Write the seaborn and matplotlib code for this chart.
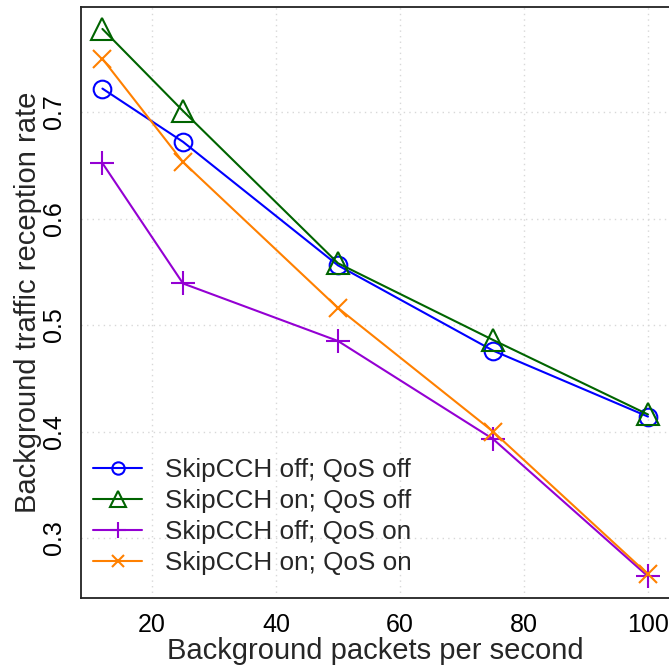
import matplotlib
matplotlib.use("Agg")
import matplotlib.pyplot as plt
import seaborn as sns
import pandas as pd

# ---- data ----
packets = [12, 25, 50, 75, 100]
skip_off_qos_off = [0.722, 0.672, 0.556, 0.476, 0.414]
skip_on_qos_off = [0.778, 0.701, 0.558, 0.486, 0.416]
skip_off_qos_on = [0.652, 0.539, 0.485, 0.393, 0.264]
skip_on_qos_on = [0.750, 0.653, 0.516, 0.400, 0.266]
series_labels = ["SkipCCH off; QoS off", "SkipCCH on; QoS off",
                 "SkipCCH off; QoS on", "SkipCCH on; QoS on"]
x_ticks = [20, 40, 60, 80, 100]
y_ticks = [0.3, 0.4, 0.5, 0.6, 0.7]
x_label = "Background packets per second"
y_label = "Background traffic reception rate"

# ---- style ----
colors = ["#0000ff", "#006400", "#9400d3", "#ff8000"]
markers = ["o", "^", "+", "x"]
msizes = [12.7, 15.5, 17.0, 13.0]

sns.set_style("white")
plt.rcParams["font.family"] = ["Liberation Sans", "DejaVu Sans"]

fig = plt.figure(figsize=(6.69, 6.71), dpi=100)
W, H = 669, 671
left_px, right_px, top_px, bot_px = 80.6, 669.8, 7.0, 598.3
ax = fig.add_axes([left_px / W, 1 - bot_px / H,
                   (right_px - left_px) / W, (bot_px - top_px) / H])

all_series = [skip_off_qos_off, skip_on_qos_off, skip_off_qos_on, skip_on_qos_on]
for vals, lab, c, m, ms in zip(all_series, series_labels, colors, markers, msizes):
    df = pd.DataFrame({"x": packets, "y": vals})
    sns.lineplot(data=df, x="x", y="y", ax=ax, color=c, marker=m,
                 markersize=ms, markerfacecolor="none", markeredgecolor=c,
                 markeredgewidth=1.5, linewidth=1.5, label=lab, clip_on=False)

ax.set_xlim(8.48, 103.52)
ax.set_ylim(0.2434, 0.7986)
ax.set_xticks(x_ticks)
ax.set_yticks(y_ticks)
ax.set_xticklabels([str(t) for t in x_ticks])
ax.set_yticklabels([f"{t:.1f}" for t in y_ticks], rotation=90, va="center")
ax.grid(True, linestyle=(0, (1, 3)), color="#d8d8d8", linewidth=1.0)
ax.set_axisbelow(True)

for s in ["left", "bottom", "top", "right"]:
    ax.spines[s].set_color("#222222")
    ax.spines[s].set_linewidth(1.3)

ax.tick_params(axis="both", direction="out", length=7.5, width=1.0,
               color="#444444", labelsize=18, labelcolor="black")
ax.tick_params(axis="x", pad=3)
ax.tick_params(axis="y", pad=3)

ax.set_xlabel(x_label, fontsize=21, labelpad=0)
ax.set_ylabel(y_label, fontsize=21, labelpad=0)

leg = ax.legend(loc="lower left", bbox_to_anchor=(0.021, 0.0386),
                frameon=False, fontsize=18.8, handlelength=1.88,
                handletextpad=0.88, labelspacing=0.27, borderpad=0,
                borderaxespad=0)
for h, ms in zip(leg.legend_handles, msizes):
    h.set_markersize(ms * 0.7)

fig.savefig("out.png", dpi=100)
